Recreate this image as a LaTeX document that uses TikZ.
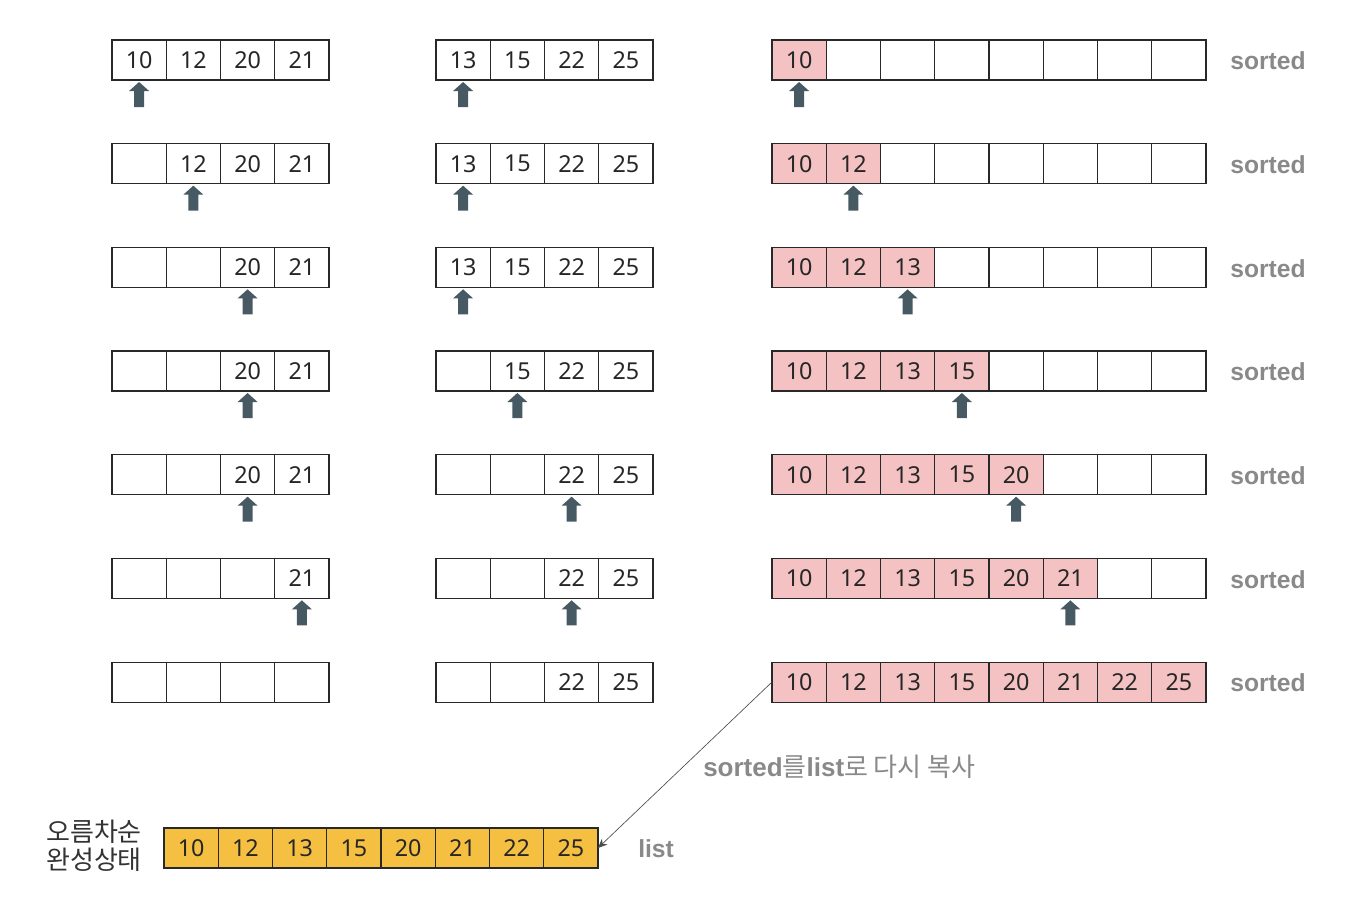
\documentclass[tikz,border=0pt]{standalone}
\usepackage{fontspec}
\setmainfont{Noto Sans}
\newfontfamily\kr{Noto Sans CJK KR}
\newfontfamily\lab{Liberation Sans}
\usetikzlibrary{arrows.meta}
\definecolor{pinkc}{RGB}{244,194,194}
\definecolor{goldc}{RGB}{245,191,66}
\definecolor{arrc}{RGB}{71,89,98}
\definecolor{grayt}{RGB}{137,137,137}
\definecolor{edgec}{RGB}{40,40,40}
\begin{document}
\begin{tikzpicture}[x=0.75pt,y=-0.75pt,
  cell/.style={draw=edgec, line width=0.8pt, minimum width=40.69pt, minimum height=30pt,
    inner sep=0pt, outer sep=0pt, font=\fontsize{17.5}{20}\selectfont, text=black!85},
  pcell/.style={cell, fill=pinkc},
  gcell/.style={cell, fill=goldc},
  lbl/.style={font=\lab\bfseries\fontsize{18.5}{22}\selectfont, text=grayt},
  ptr/.style={fill=arrc},
  copyline/.style={draw=black!70, line width=0.5pt, -{Stealth[length=7pt,width=6pt]}}]
\useasboundingbox (0,0) rectangle (1348,904);
% left arrays
\foreach \r/\vals/\p in {0/{10,12,20,21}/0, 1/{{},12,20,21}/1, 2/{{},{},20,21}/2,
    3/{{},{},20,21}/2, 4/{{},{},20,21}/2, 5/{{},{},{},21}/3, 6/{{},{},{},{}}/-1}{
  \foreach \v [count=\i from 0] in \vals
    \node[cell] (L-\r-\i) at ({139.1+54.25*\i},{60+103.67*\r}) {\v};
  \ifnum\p>-1
    \fill[ptr, shift={(L-\r-\p.south)}] (0,2) -- ++(10,9) -- ++(-5,0) -- ++(0,16) -- ++(-10,0) -- ++(0,-16) -- ++(-5,0) -- cycle;
  \fi
}
% middle arrays
\foreach \r/\vals/\p in {0/{13,15,22,25}/0, 1/{13,15,22,25}/0, 2/{13,15,22,25}/0,
    3/{{},15,22,25}/1, 4/{{},{},22,25}/2, 5/{{},{},22,25}/2, 6/{{},{},22,25}/-1}{
  \foreach \v [count=\i from 0] in \vals
    \node[cell] (M-\r-\i) at ({463.1+54.25*\i},{60+103.67*\r}) {\v};
  \ifnum\p>-1
    \fill[ptr, shift={(M-\r-\p.south)}] (0,2) -- ++(10,9) -- ++(-5,0) -- ++(0,16) -- ++(-10,0) -- ++(0,-16) -- ++(-5,0) -- cycle;
  \fi
}
% sorted arrays
\foreach \r in {0,...,6}{
  \ifnum\r=6 \def\lim{7}\else\edef\lim{\r}\fi
  \foreach \v [count=\i from 0] in {10,12,13,15,20,21,22,25}{
    \ifnum\i>\lim
      \node[cell] (R-\r-\i) at ({799.1+54.25*\i},{60+103.67*\r}) {};
    \else
      \node[pcell] (R-\r-\i) at ({799.1+54.25*\i},{60+103.67*\r}) {\v};
    \fi
  }
  \node[lbl] (S-\r) at (1268,{61+103.67*\r}) {sorted};
  \ifnum\r<6
    \fill[ptr, shift={(R-\r-\r.south)}] (0,2) -- ++(10,9) -- ++(-5,0) -- ++(0,16) -- ++(-10,0) -- ++(0,-16) -- ++(-5,0) -- cycle;
  \fi
}
% final list
\foreach \v [count=\i from 0] in {10,12,13,15,20,21,22,25}
  \node[gcell] (B-\i) at ({191.1+54.25*\i},848) {\v};
\node[font=\kr\fontsize{19.5}{21}\selectfont, text=black!80, align=center, inner sep=0pt] (K) at (94,846) {오름차순\\완성상태};
\node[lbl, anchor=west, inner sep=0pt] (LL) at (638,849) {list};
\node[anchor=west, inner sep=0pt, text=grayt, font=\fontsize{19.5}{22}\selectfont] (CP) at (703,767)
  {{\lab\bfseries sorted}{\kr 를}{\lab\bfseries list}{\kr 로 다시 복사}};
\draw[copyline] (R-6-0.west) -- (B-7.east);
\end{tikzpicture}
\end{document}
